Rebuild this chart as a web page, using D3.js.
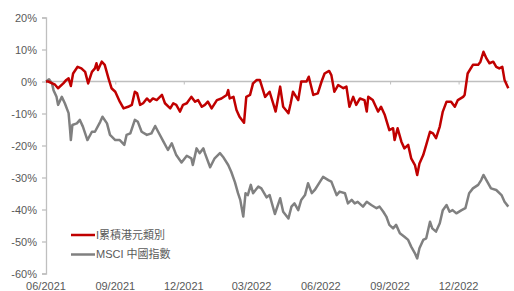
<!DOCTYPE html>
<html>
<head>
<meta charset="utf-8">
<script src="https://cdn.jsdelivr.net/npm/d3@7"></script>
<style>
  body { margin: 0; background: #fff; }
  svg { display: block; font-family: "Liberation Sans", Arial, "Noto Sans CJK TC", sans-serif; }
  .axis-label { font-size: 11px; fill: #595959; }
  .legend text { font-size: 11px; fill: #595959; }
</style>
</head>
<body>
<div id="chart"></div>
<script>
var parse = d3.timeParse('%Y-%m-%d');

var seriesNames = ['I累積港元類別', 'MSCI 中國指數'];
var seriesColors = ['#c00000', '#808080'];

var yTicks = [20, 10, 0, -10, -20, -30, -40, -50, -60];
var xTickDates = ['2021-06-01', '2021-09-01', '2021-12-01', '2022-03-01', '2022-06-01', '2022-09-01', '2022-12-01'];
var xTickLabels = ['06/2021', '09/2021', '12/2021', '03/2022', '06/2022', '09/2022', '12/2022'];

// fund, % return since start
var fundDates = ['2021-06-01','2021-06-04','2021-06-13','2021-06-17','2021-06-24','2021-06-28','2021-07-01','2021-07-04','2021-07-07','2021-07-13','2021-07-18','2021-07-23','2021-07-27','2021-08-01','2021-08-05','2021-08-07','2021-08-09','2021-08-14','2021-08-18','2021-08-23','2021-08-27','2021-09-01','2021-09-07','2021-09-12','2021-09-18','2021-09-23','2021-09-27','2021-09-30','2021-10-04','2021-10-08','2021-10-13','2021-10-17','2021-10-21','2021-10-26','2021-11-02','2021-11-06','2021-11-13','2021-11-17','2021-11-21','2021-11-26','2021-11-30','2021-12-05','2021-12-11','2021-12-16','2021-12-20','2021-12-25','2021-12-29','2022-01-02','2022-01-07','2022-01-14','2022-01-20','2022-01-27','2022-01-29','2022-01-31','2022-02-05','2022-02-09','2022-02-13','2022-02-19','2022-02-22','2022-02-27','2022-03-03','2022-03-08','2022-03-12','2022-03-19','2022-03-25','2022-04-02','2022-04-08','2022-04-12','2022-04-19','2022-04-22','2022-04-25','2022-05-02','2022-05-06','2022-05-13','2022-05-16','2022-05-22','2022-05-28','2022-06-02','2022-06-06','2022-06-12','2022-06-15','2022-06-19','2022-06-24','2022-07-01','2022-07-05','2022-07-09','2022-07-14','2022-07-18','2022-07-23','2022-07-29','2022-08-01','2022-08-03','2022-08-09','2022-08-16','2022-08-20','2022-08-25','2022-08-31','2022-09-05','2022-09-07','2022-09-11','2022-09-16','2022-09-20','2022-09-25','2022-09-29','2022-10-04','2022-10-07','2022-10-10','2022-10-15','2022-10-19','2022-10-24','2022-10-28','2022-11-01','2022-11-06','2022-11-10','2022-11-15','2022-11-21','2022-11-26','2022-11-30','2022-12-07','2022-12-09','2022-12-13','2022-12-20','2022-12-27','2022-12-30','2023-01-03','2023-01-07','2023-01-11','2023-01-16','2023-01-20','2023-01-24','2023-01-28','2023-01-31','2023-02-05'];
var fundValues = [0,0,-1,-2.1,-0.6,0.5,1,-1.4,2.5,4.6,4.1,3,-0.6,3,4.1,5.7,3.6,6.2,5.2,1,-2.1,-3.2,-6.3,-8.4,-7.9,-7.3,-3.2,-3.7,-7.3,-6.8,-5.3,-6.3,-5.3,-5.8,-4.2,-6.8,-8.4,-6.8,-7.3,-9.4,-7.3,-6.8,-4.8,-6.3,-5.8,-7.9,-7.3,-6.3,-8.4,-5.8,-5.3,-4.2,-2.7,-5.3,-4.8,-8.9,-11,-12.9,-4.8,-4.2,-0.6,0.5,0.5,-4.8,-3.2,-9.4,-1.6,-7.9,-9.9,-6.8,-3.2,-5.8,0,0,1.5,-4.2,-3.7,0,2.5,3.3,2,-3.2,-1.1,-2.1,-1.6,-7.9,-4.8,-7.3,-5.3,-5.8,-9.4,-4.8,-5.8,-9.4,-7.9,-10.5,-15.2,-14.6,-18.3,-14.6,-18.8,-20.9,-19.8,-24,-26.1,-29.2,-25.6,-23,-19.8,-15.7,-16.2,-17.7,-14.1,-9.4,-6.3,-6.3,-7.9,-5.8,-4.8,-4.2,2.5,5.2,5.2,6.2,9.3,7.2,5.7,6.2,4.6,4.1,4.6,0.5,-2.1];

// MSCI China, % return since start
var msciDates = ['2021-06-01','2021-06-05','2021-06-09','2021-06-11','2021-06-15','2021-06-17','2021-06-22','2021-06-26','2021-07-01','2021-07-03','2021-07-04','2021-07-06','2021-07-12','2021-07-16','2021-07-20','2021-07-26','2021-08-01','2021-08-05','2021-08-12','2021-08-15','2021-08-21','2021-08-25','2021-09-01','2021-09-07','2021-09-13','2021-09-16','2021-09-21','2021-09-27','2021-10-01','2021-10-06','2021-10-13','2021-10-19','2021-10-24','2021-10-28','2021-11-04','2021-11-10','2021-11-15','2021-11-21','2021-11-28','2021-12-05','2021-12-11','2021-12-13','2021-12-18','2021-12-22','2021-12-27','2021-12-29','2022-01-05','2022-01-11','2022-01-18','2022-01-22','2022-01-29','2022-02-02','2022-02-07','2022-02-11','2022-02-14','2022-02-18','2022-02-21','2022-02-24','2022-02-28','2022-03-03','2022-03-10','2022-03-14','2022-03-21','2022-03-25','2022-04-01','2022-04-08','2022-04-12','2022-04-19','2022-04-23','2022-04-27','2022-05-02','2022-05-06','2022-05-11','2022-05-15','2022-05-20','2022-05-24','2022-05-31','2022-06-04','2022-06-11','2022-06-15','2022-06-22','2022-06-26','2022-07-03','2022-07-07','2022-07-12','2022-07-16','2022-07-20','2022-07-27','2022-08-01','2022-08-07','2022-08-14','2022-08-18','2022-08-23','2022-08-27','2022-08-31','2022-09-05','2022-09-09','2022-09-14','2022-09-20','2022-09-25','2022-09-29','2022-10-04','2022-10-07','2022-10-10','2022-10-15','2022-10-19','2022-10-24','2022-10-27','2022-11-01','2022-11-06','2022-11-10','2022-11-15','2022-11-19','2022-11-23','2022-11-28','2022-12-05','2022-12-10','2022-12-15','2022-12-20','2022-12-27','2022-12-31','2023-01-03','2023-01-08','2023-01-13','2023-01-20','2023-01-27','2023-01-31','2023-02-05'];
var msciValues = [0,0.7,-0.6,-2.7,-4.8,-7.3,-4.8,-6.8,-9.9,-15.2,-18.3,-13.6,-13.1,-12,-14.1,-18.3,-15.7,-15.7,-12.6,-11,-13.1,-16.7,-18.3,-18.3,-19.8,-16.7,-16.2,-12,-12.6,-15.7,-16.7,-16.2,-13.9,-15.7,-18.8,-21.4,-19.3,-23,-25.3,-23.2,-24,-26.1,-20.9,-22.4,-20.9,-22.4,-26.8,-24,-22.4,-23.5,-26.1,-28.2,-31.5,-34.9,-37,-42.2,-34.9,-35.5,-32.3,-34.9,-32.8,-33.4,-36.2,-35.5,-41.4,-36.5,-40.7,-42.8,-39.1,-38.1,-40.2,-37,-35.5,-31.8,-34.9,-33.9,-31.3,-29.8,-30.8,-31.3,-35.5,-34.4,-34.9,-38.1,-37,-38.1,-37.6,-39.1,-37.6,-38.6,-39.6,-39.1,-40.7,-42.2,-44.8,-45.9,-44.8,-47.4,-48.5,-49.5,-51.6,-53.7,-55.3,-52.1,-49.5,-49,-43.8,-45.9,-46.9,-44.3,-40.2,-38.6,-40.7,-40.2,-41.2,-40.2,-39.6,-34.9,-33.4,-32.3,-30.8,-29.2,-31.3,-33.4,-33.9,-35.5,-37.6,-39.1];

var width = 514, height = 291;

var svg = d3.select('#chart').append('svg')
  .attr('width', width)
  .attr('height', height);

var x = d3.scaleTime()
  .domain([parse('2021-06-01'), parse('2023-02-05')])
  .range([46, 508.3]);

var y = d3.scaleLinear()
  .domain([-60, 20])
  .range([273.5, 17.5]);

// y axis
var yAxis = d3.axisLeft(y)
  .tickValues(yTicks)
  .tickSize(4)
  .tickFormat(function(d) { return d + '%'; });

var gy = svg.append('g')
  .attr('transform', 'translate(' + x.range()[0] + ',0)')
  .call(yAxis);
gy.select('.domain').attr('stroke', '#bfbfbf').attr('stroke-width', 1.3);
gy.selectAll('.tick line').attr('stroke', '#bfbfbf').attr('stroke-width', 1.3);
gy.selectAll('.tick text')
  .attr('class', 'axis-label')
  .attr('x', -9)
  .attr('dy', '0.35em')
  .style('font-size', '11px')
  .style('fill', '#595959')
  .style('font-family', '"Liberation Sans", Arial, sans-serif');

// x axis on the zero line, labels at the bottom
var tickDates = xTickDates.map(parse);
var xAxis = d3.axisBottom(x)
  .tickValues(tickDates)
  .tickSize(3)
  .tickFormat('');

var gx = svg.append('g')
  .attr('transform', 'translate(0,' + y(0) + ')')
  .call(xAxis);
gx.select('.domain').attr('stroke', '#bfbfbf').attr('stroke-width', 1.6)
  .attr('d', 'M' + x.range()[0] + ',0H' + x.range()[1]);
gx.selectAll('.tick line').attr('stroke', '#bfbfbf').attr('stroke-width', 1);

svg.append('g').selectAll('text')
  .data(tickDates)
  .enter().append('text')
  .attr('class', 'axis-label')
  .attr('x', function(d) { return x(d); })
  .attr('y', 290)
  .attr('text-anchor', 'middle')
  .text(function(d, i) { return xTickLabels[i]; });

// lines
var line = d3.line()
  .x(function(d) { return x(d.date); })
  .y(function(d) { return y(d.value); });

function toPoints(dates, values) {
  return dates.map(function(d, i) { return {date: parse(d), value: values[i]}; });
}

var series = [toPoints(msciDates, msciValues), toPoints(fundDates, fundValues)];
var order = [1, 0];

svg.append('g').selectAll('path')
  .data(series)
  .enter().append('path')
  .attr('fill', 'none')
  .attr('stroke', function(d, i) { return seriesColors[order[i]]; })
  .attr('stroke-width', 2.5)
  .attr('stroke-linejoin', 'round')
  .attr('d', line);

// legend
var legend = svg.append('g').attr('class', 'legend')
  .attr('transform', 'translate(71,235)');

var items = legend.selectAll('g')
  .data(seriesNames)
  .enter().append('g')
  .attr('transform', function(d, i) { return 'translate(0,' + (i * 19.5) + ')'; });

items.append('line')
  .attr('x1', 0).attr('x2', 24)
  .attr('stroke', function(d, i) { return seriesColors[i]; })
  .attr('stroke-width', 2.5);

items.append('text')
  .attr('x', 25)
  .attr('dy', '0.35em')
  .text(function(d) { return d; });
</script>
</body>
</html>
